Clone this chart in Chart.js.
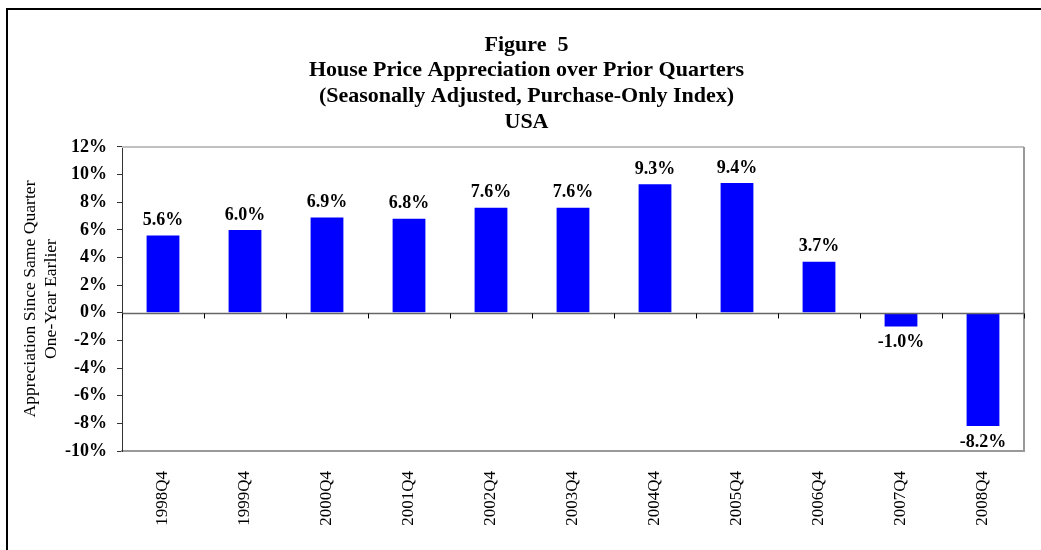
<!DOCTYPE html>
<html><head><meta charset="utf-8">
<script src="https://cdn.jsdelivr.net/npm/chart.js@4/dist/chart.umd.min.js"></script>
<style>
html,body{margin:0;padding:0;background:#fff;overflow:hidden;}
#wrap{position:relative;width:1041px;height:550px;}
#frame{position:absolute;left:6px;top:8px;width:1100px;height:600px;border-left:2px solid #000;border-top:2px solid #000;}
canvas{position:absolute;left:0;top:0;}
</style></head><body>
<div id="wrap"><div id="frame"></div><canvas id="c" width="1041" height="550"></canvas></div>
<script>
const categories = ['1998Q4','1999Q4','2000Q4','2001Q4','2002Q4','2003Q4','2004Q4','2005Q4','2006Q4','2007Q4','2008Q4'];
const appreciation = [5.6, 6.0, 6.9, 6.8, 7.6, 7.6, 9.3, 9.4, 3.7, -1.0, -8.2];
const titleLines = ['Figure  5','House Price Appreciation over Prior Quarters','(Seasonally Adjusted, Purchase-Only Index)','USA'];
const yTitleLines = ['Appreciation Since Same Quarter','One-Year Earlier'];
const yMin = -10, yMax = 12, yStep = 2;

const serif = "'Liberation Serif','Times New Roman',serif";

const framePlugin = {
  id: 'frame',
  afterLayout(chart) {
    const t = chart.titleBlock;
    if (t) { t.left += 7; t.right += 7; }
  },
  beforeDatasetsDraw(chart) {
    const {ctx, chartArea: a} = chart;
    ctx.save();
    ctx.lineWidth = 2;
    ctx.strokeStyle = '#c0c0c0';
    ctx.beginPath(); ctx.moveTo(a.left, a.top); ctx.lineTo(a.right, a.top); ctx.stroke();
    ctx.strokeStyle = '#999';
    ctx.beginPath(); ctx.moveTo(a.right, a.top); ctx.lineTo(a.right, a.bottom); ctx.stroke();
    ctx.restore();
  },
  afterDatasetsDraw(chart) {
    const {ctx} = chart;
    const x = chart.scales.x, y = chart.scales.y;
    const y0 = Math.round(y.getPixelForValue(0)) + 0.5;
    ctx.save();
    ctx.strokeStyle = '#666';
    ctx.lineWidth = 1.5;
    ctx.beginPath(); ctx.moveTo(chart.chartArea.left, y0); ctx.lineTo(chart.chartArea.right, y0); ctx.stroke();
    ctx.strokeStyle = '#000';
    ctx.lineWidth = 1;
    for (let i = 0; i <= categories.length; i++) {
      const px = Math.round(x.getPixelForValue(i - 0.5)) + 0.5;
      ctx.beginPath(); ctx.moveTo(px, y0); ctx.lineTo(px, y0 + 5); ctx.stroke();
    }
    const meta = chart.getDatasetMeta(0);
    ctx.fillStyle = '#000';
    ctx.font = "bold 18px " + serif;
    ctx.textAlign = 'center';
    meta.data.forEach((bar, i) => {
      const v = appreciation[i];
      const t = v.toFixed(1) + '%';
      if (v >= 0) { ctx.textBaseline = 'bottom'; ctx.fillText(t, bar.x, bar.y - 6); }
      else { ctx.textBaseline = 'top'; ctx.fillText(t, bar.x, bar.y + 7); }
    });
    ctx.restore();
  }
};

new Chart(document.getElementById('c'), {
  type: 'bar',
  data: {
    labels: categories,
    datasets: [{ data: appreciation, backgroundColor: '#0000ff', borderWidth: 0, barPercentage: 0.4, categoryPercentage: 1.0 }]
  },
  options: {
    responsive: false,
    animation: false,
    layout: { padding: { left: 15, right: 17, top: 0, bottom: 0 } },
    plugins: {
      legend: { display: false },
      tooltip: { enabled: false },
      title: {
        display: true,
        text: titleLines,
        color: '#000',
        font: { family: serif, size: 22, weight: 'bold', lineHeight: 1.17 },
        padding: { top: 32, bottom: 12 }
      }
    },
    scales: {
      x: {
        type: 'category',
        offset: true,
        grid: { display: true, drawOnChartArea: false, drawTicks: false },
        border: { display: true, color: '#999', width: 2 },
        ticks: { color: '#000', font: { family: serif, size: 17 }, minRotation: 90, maxRotation: 90, padding: 20, autoSkip: false },
        afterFit(s) { s.height = 99; }
      },
      y: {
        min: yMin, max: yMax,
        grid: { color: 'rgba(0,0,0,0)', tickColor: '#333', tickLength: 5, drawOnChartArea: true },
        border: { display: true, color: '#333', width: 1 },
        ticks: { stepSize: yStep, color: '#000', padding: 10, font: { family: serif, size: 18, weight: 'bold' }, callback: v => v + '%' },
        title: { display: true, text: yTitleLines, color: '#000', font: { family: serif, size: 17.6, lineHeight: 1.24 }, padding: { top: 4, bottom: 4 } },
        afterFit(s) { s.width = 107; }
      }
    }
  },
  plugins: [framePlugin]
});
</script>
</body></html>
